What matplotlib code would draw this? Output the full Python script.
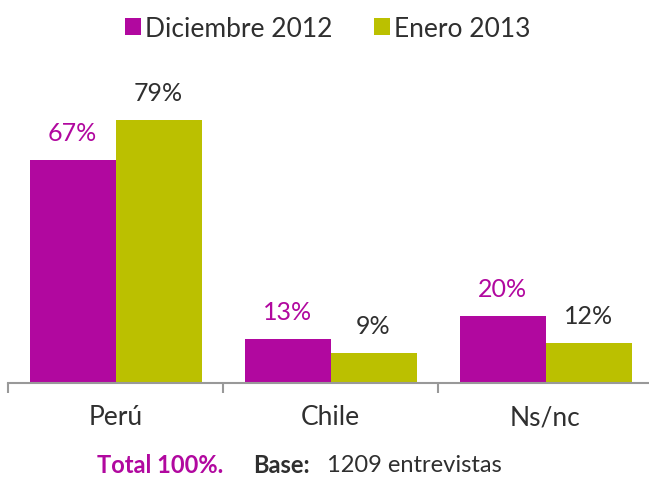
import matplotlib
matplotlib.use("Agg")
import matplotlib.pyplot as plt
import numpy as np

categories = ["Perú", "Chile", "Ns/nc"]
series_names = ["Diciembre 2012", "Enero 2013"]
dic_2012 = [67, 13, 20]
ene_2013 = [79, 9, 12]

purple = "#B1089F"
green = "#BBC000"
dark = "#2F2F2F"

plt.rcParams['font.family'] = ['Lato', 'DejaVu Sans']

W, H = 649, 481
fig = plt.figure(figsize=(W / 100, H / 100), dpi=100)
left = 8 / W
width = 645 / W
bottom = (H - 383.5) / H
height = 297 / H
ax = fig.add_axes([left, bottom, width, height])

x = np.arange(len(categories))
bw = 0.4
b1 = ax.bar(x - bw / 2, dic_2012, bw, color=purple, label=series_names[0])
b2 = ax.bar(x + bw / 2, ene_2013, bw, color=green, label=series_names[1])

for xi, v in zip(x, dic_2012):
    ax.text(xi - bw / 2, v + 4.8, f"{v}%", ha="center", va="bottom", color=purple, fontsize=18)
for xi, v in zip(x, ene_2013):
    ax.text(xi + bw / 2, v + 4.8, f"{v}%", ha="center", va="bottom", color=dark, fontsize=18)

ax.set_xlim(-0.5, 2.5)
ax.set_ylim(0, 89.4)
for s in ["top", "right", "left"]:
    ax.spines[s].set_visible(False)
ax.spines["bottom"].set_color("#999999")
ax.spines["bottom"].set_linewidth(1.5)
ax.set_yticks([])
ax.set_xticks([-0.5, 0.5, 1.5, 2.5], minor=False)
ax.set_xticklabels([])
ax.tick_params(axis="x", length=7, width=1.5, color="#999999", direction="out")
for xi, c in zip(x, categories):
    ax.text(xi, -6.5, c, ha="center", va="top", fontsize=19, color=dark)

leg = fig.legend(handles=[b1, b2], labels=series_names, loc="upper center",
                 bbox_to_anchor=(0.505, 1.015), ncol=2, frameon=False, fontsize=19,
                 handlelength=0.6, handleheight=0.6, handletextpad=0.15, columnspacing=1.6)
for t in leg.get_texts():
    t.set_color(dark)

ty = (H - 466) / H
fig.text(97 / W, ty, "Total 100%.", color=purple, fontsize=17,
         fontweight="bold", va="center", ha="left")
fig.text(253 / W, ty, "Base:", color=dark, fontsize=17, fontweight="bold",
         va="center", ha="left")
fig.text(327 / W, ty, "1209 entrevistas", color=dark, fontsize=17,
         va="center", ha="left")

fig.savefig("out.png", dpi=100)
